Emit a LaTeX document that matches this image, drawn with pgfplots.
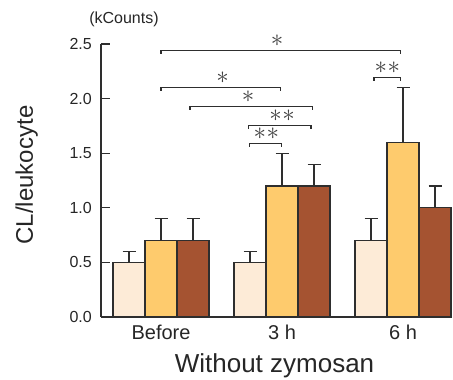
\documentclass[border=0pt]{standalone}
\usepackage{fontspec}
\setmainfont{Liberation Sans}
\usepackage{pgfplots}
\pgfplotsset{compat=1.18}
\definecolor{cLight}{HTML}{FDEBD7}
\definecolor{cYel}{HTML}{FECB6D}
\definecolor{cBrown}{HTML}{A55331}
\definecolor{cEdge}{HTML}{2E2E2E}
\newcommand{\st}{{\fontsize{27}{27}\selectfont$\ast$}}
\newcommand{\dst}{{\fontsize{27}{27}\selectfont${\ast}\kern0.5pt{\ast}$}}
\begin{document}
\begin{tikzpicture}
\useasboundingbox (-101pt,-63pt) rectangle (352pt,317pt);
\begin{axis}[
  at={(0,0)}, anchor=south west,
  scale only axis, width=351pt, height=273pt,
  xmin=-0.496, xmax=2.405, ymin=0, ymax=2.5,
  axis x line=bottom, axis y line=left,
  axis line style={-, line width=1.2pt, color=cEdge},
  clip=false,
  ybar=0pt, bar width=32pt,
  xtick={0,1,2}, xticklabels={Before,3 h,6 h},
  xtick style={draw=none},
  xticklabel style={anchor=base, yshift=-23pt, font=\fontsize{20}{20}\selectfont, text=black!85},
  ytick={0,0.5,1,1.5,2,2.5},
  yticklabel style={anchor=east, inner sep=0pt, xshift=-9pt, font=\fontsize{16}{16}\selectfont, text=black!85,
    /pgf/number format/.cd, fixed, fixed zerofill, precision=1, assume math mode=true},
  tick align=inside, major tick length=9pt,
  ytick style={line width=1.2pt, color=cEdge},
  every axis plot/.append style={draw=cEdge, line width=1.2pt},
  error bars/error bar style={line width=1.2pt, color=cEdge},
  error bars/error mark options={rotate=90, mark size=6.5pt, line width=1.2pt, color=cEdge},
]
\addplot[fill=cLight, bar shift=-32pt, error bars/.cd, y dir=plus, y explicit]
  coordinates {(0,0.5) +- (0,0.1) (1,0.5) +- (0,0.1) (2,0.7) +- (0,0.2)};
\addplot[fill=cYel, bar shift=0pt, error bars/.cd, y dir=plus, y explicit]
  coordinates {(0,0.7) +- (0,0.2) (1,1.2) +- (0,0.3) (2,1.6) +- (0,0.5)};
\addplot[fill=cBrown, bar shift=32pt, error bars/.cd, y dir=plus, y explicit]
  coordinates {(0,0.7) +- (0,0.2) (1,1.2) +- (0,0.2) (2,1.0) +- (0,0.2)};
% significance brackets
\draw[line width=1.2pt, cEdge] (axis cs:0,2.41) |- (axis cs:1.98,2.44) -- (axis cs:1.98,2.41);
\node[text=black!75, inner sep=0pt] at (axis cs:0.96,2.44) [yshift=10pt] {\st};
\draw[line width=1.2pt, cEdge] (axis cs:0,2.07) |- (axis cs:0.99,2.10) -- (axis cs:0.99,2.07);
\node[text=black!75, inner sep=0pt] at (axis cs:0.51,2.10) [yshift=10pt] {\st};
\draw[line width=1.2pt, cEdge] (axis cs:0.24,1.90) |- (axis cs:1.25,1.93) -- (axis cs:1.25,1.90);
\node[text=black!75, inner sep=0pt] at (axis cs:0.72,1.93) [yshift=10pt] {\st};
\draw[line width=1.2pt, cEdge] (axis cs:0.72,1.72) |- (axis cs:1.24,1.75) -- (axis cs:1.24,1.72);
\node[text=black!75, inner sep=0pt] at (axis cs:1.0,1.75) [yshift=10pt] {\dst};
\draw[line width=1.2pt, cEdge] (axis cs:0.73,1.56) |- (axis cs:0.995,1.59) -- (axis cs:0.995,1.56);
\node[text=black!75, inner sep=0pt] at (axis cs:0.87,1.59) [yshift=10pt] {\dst};
\draw[line width=1.2pt, cEdge] (axis cs:1.76,2.165) |- (axis cs:1.98,2.195) -- (axis cs:1.98,2.165);
\node[text=black!75, inner sep=0pt] at (axis cs:1.87,2.195) [yshift=10pt] {\dst};
\end{axis}
\node[anchor=base, rotate=90, text=black!85, font=\fontsize{24}{24}\selectfont] at (-68pt,142pt) {CL/leukocyte};
\node[anchor=base, text=black!85, font=\fontsize{26}{26}\selectfont] at (173.5pt,-56pt) {Without zymosan};
\node[text=black!85, font=\fontsize{16}{16}\selectfont] at (23pt,298pt) {(kCounts)};
\end{tikzpicture}
\end{document}
